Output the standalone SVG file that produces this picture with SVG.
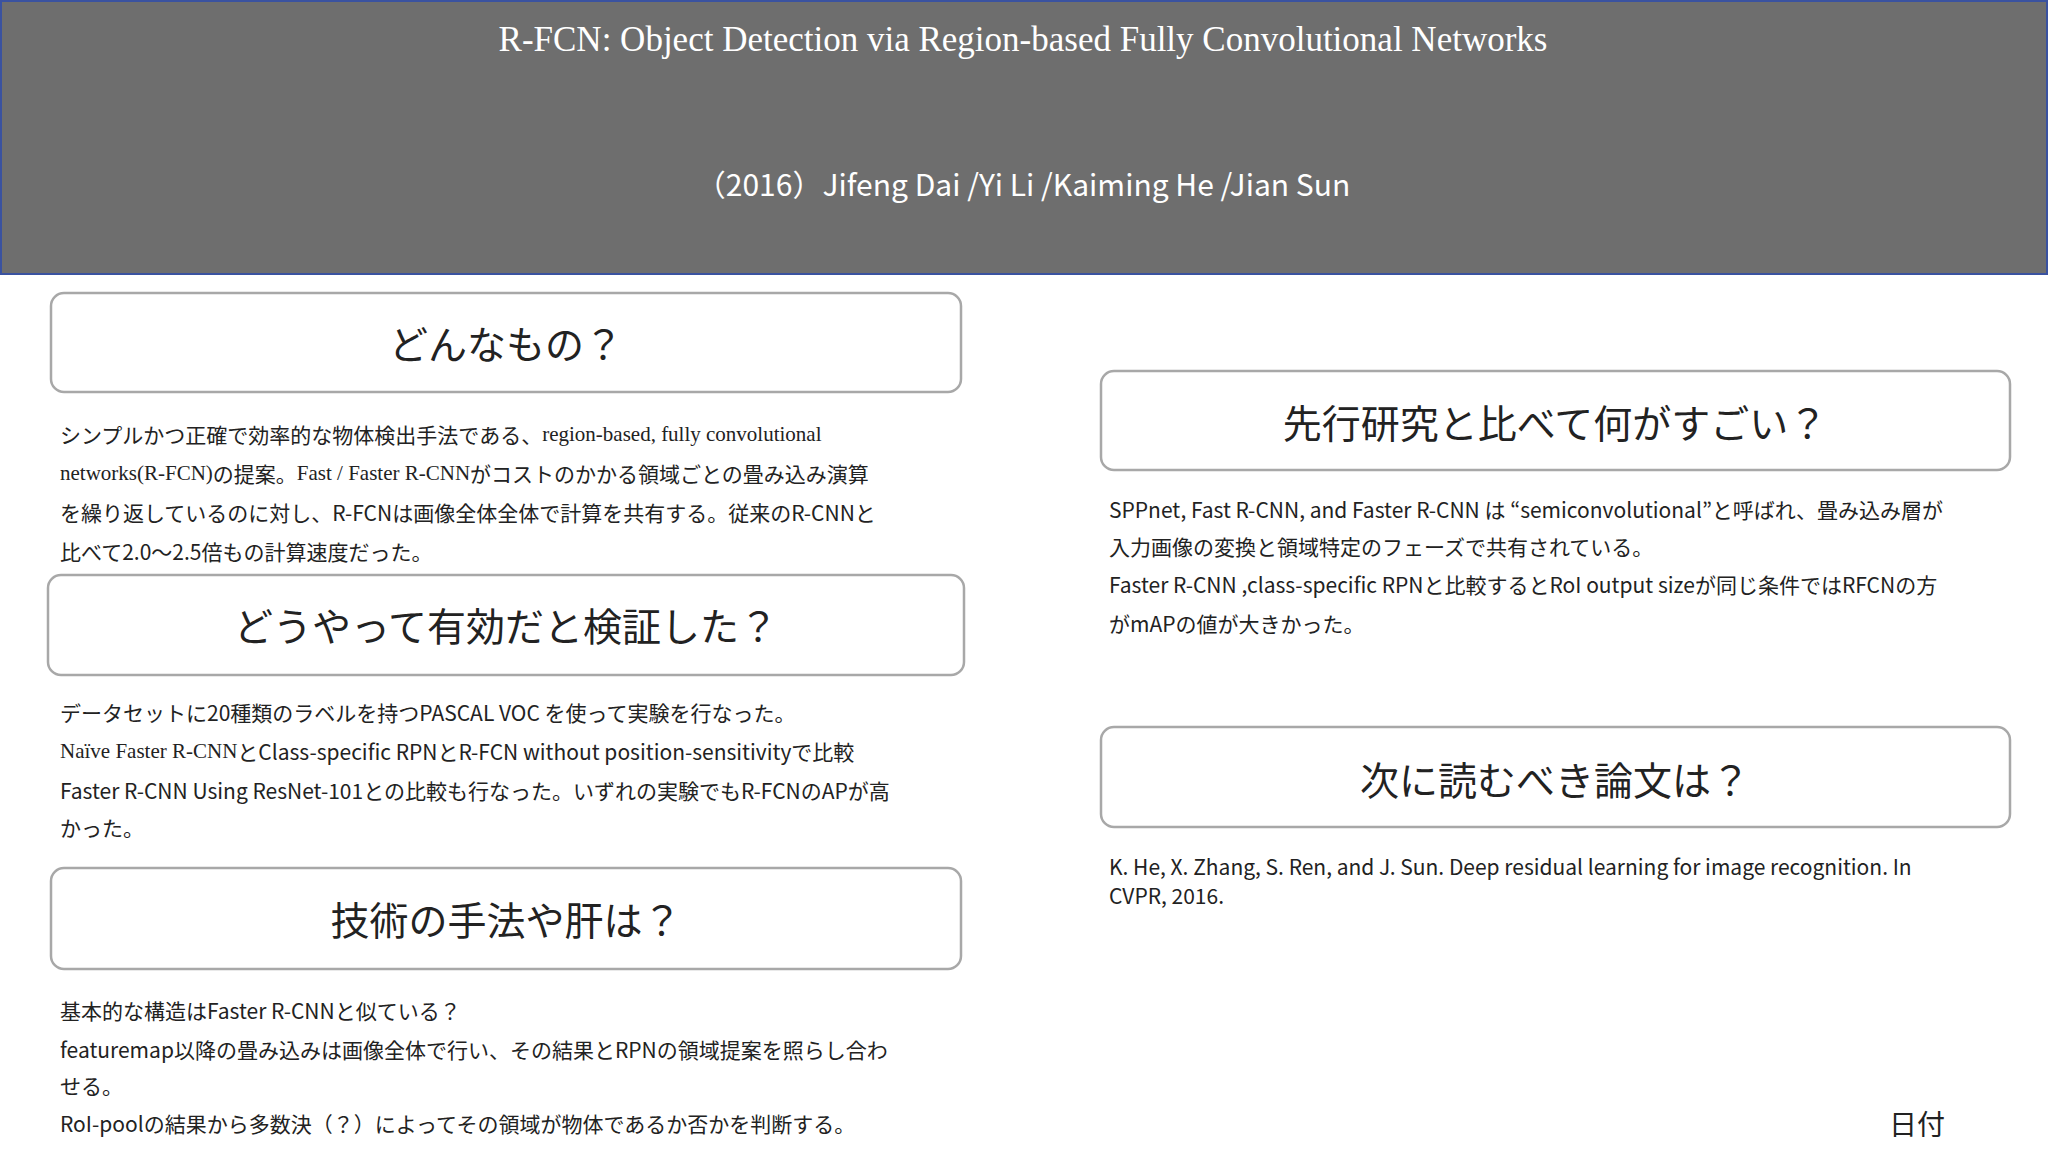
<svg xmlns="http://www.w3.org/2000/svg" width="2048" height="1152" viewBox="0 0 2048 1152">
<style>
.box{fill:#fff;stroke:#a8a8a8;stroke-width:2.5}
.h{font-family:"Noto Sans CJK JP",sans-serif;font-size:39px;fill:#222;text-anchor:middle;dominant-baseline:central}
.p{font-family:"Noto Sans CJK JP",sans-serif;font-size:21px;fill:#222;dominant-baseline:central}
.s{font-family:"Liberation Serif","Noto Sans CJK JP",serif}
</style>
<rect width="2048" height="1152" fill="#fff"/>
<g id="header">
<rect x="1" y="1" width="2046" height="273" fill="#6e6e6e" stroke="#3a52a0" stroke-width="2"/>
<text x="1023" y="39" font-family="Liberation Serif,serif" font-size="35" fill="#fff" text-anchor="middle" dominant-baseline="central">R-FCN: Object Detection via Region-based Fully Convolutional Networks</text>
<text x="1023" y="183" font-family="Noto Sans CJK JP,sans-serif" font-size="30" fill="#fff" text-anchor="middle" dominant-baseline="central">（2016）Jifeng Dai /Yi Li /Kaiming He /Jian Sun</text>
</g>
<g id="what">
<rect class="box" x="51" y="293" width="910" height="99" rx="13"/>
<text class="h" x="506" y="342">どんなもの？</text>
<text class="p" x="60" y="434">シンプルかつ正確で効率的な物体検出手法である、<tspan class="s">region-based, fully convolutional</tspan></text>
<text class="p" x="60" y="473"><tspan class="s">networks(R-FCN)</tspan>の提案。<tspan class="s">Fast / Faster R-CNN</tspan>がコストのかかる領域ごとの畳み込み演算</text>
<text class="p" x="60" y="512">を繰り返しているのに対し、R-FCNは画像全体全体で計算を共有する。従来のR-CNNと</text>
<text class="p" x="60" y="551">比べて2.0〜2.5倍もの計算速度だった。</text>
</g>
<g id="verify">
<rect class="box" x="48" y="575" width="916" height="100" rx="13"/>
<text class="h" x="506" y="624">どうやって有効だと検証した？</text>
<text class="p" x="60" y="712">データセットに20種類のラベルを持つPASCAL VOC を使って実験を行なった。</text>
<text class="p" x="60" y="751"><tspan class="s">Naïve Faster R-CNN</tspan>とClass-specific RPNとR-FCN without position-sensitivityで比較</text>
<text class="p" x="60" y="790">Faster R-CNN Using ResNet-101との比較も行なった。いずれの実験でもR-FCNのAPが高</text>
<text class="p" x="60" y="827">かった。</text>
</g>
<g id="method">
<rect class="box" x="51" y="868" width="910" height="101" rx="13"/>
<text class="h" x="506" y="918">技術の手法や肝は？</text>
<text class="p" x="60" y="1010">基本的な構造はFaster R-CNNと似ている？</text>
<text class="p" x="60" y="1049">featuremap以降の畳み込みは画像全体で行い、その結果とRPNの領域提案を照らし合わ</text>
<text class="p" x="60" y="1085">せる。</text>
<text class="p" x="60" y="1123">RoI-poolの結果から多数決（？）によってその領域が物体であるか否かを判断する。</text>
</g>
<g id="prior">
<rect class="box" x="1101" y="371" width="909" height="99" rx="13"/>
<text class="h" x="1555" y="421">先行研究と比べて何がすごい？</text>
<text class="p" x="1109" y="509">SPPnet, Fast R-CNN, and Faster R-CNN は “semiconvolutional”と呼ばれ、畳み込み層が</text>
<text class="p" x="1109" y="546">入力画像の変換と領域特定のフェーズで共有されている。</text>
<text class="p" x="1109" y="584">Faster R-CNN ,class-specific RPNと比較するとRoI output sizeが同じ条件ではRFCNの方</text>
<text class="p" x="1109" y="623">がmAPの値が大きかった。</text>
</g>
<g id="next">
<rect class="box" x="1101" y="727" width="909" height="100" rx="13"/>
<text class="h" x="1555" y="778">次に読むべき論文は？</text>
<text class="p" x="1109" y="866">K. He, X. Zhang, S. Ren, and J. Sun. Deep residual learning for image recognition. In</text>
<text class="p" x="1109" y="895">CVPR, 2016.</text>
</g>
<g id="date"><text class="p" x="1889" y="1123" style="font-size:28px">日付</text></g>
<g id="connectors"/>
</svg>
